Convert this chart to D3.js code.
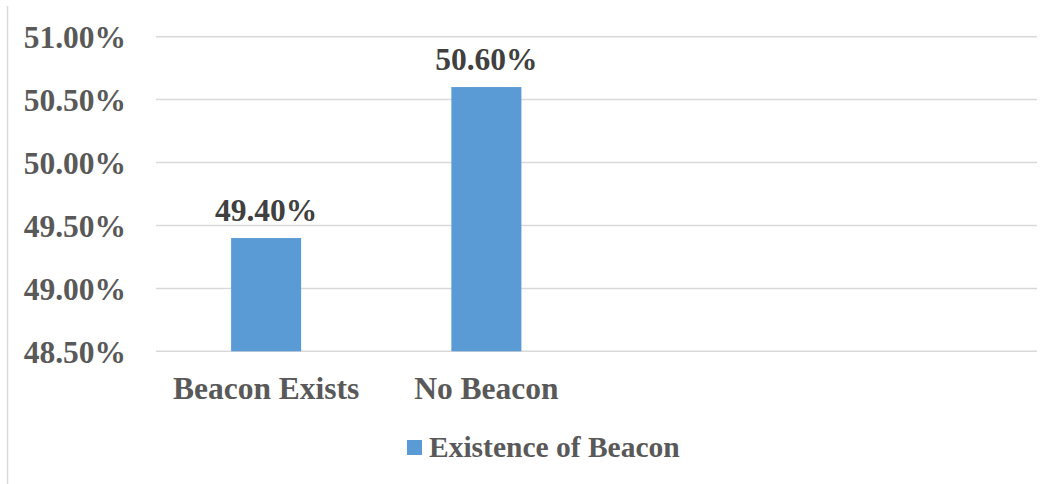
<!DOCTYPE html>
<html>
<head>
<meta charset="utf-8">
<script src="https://cdn.jsdelivr.net/npm/d3@7"></script>
<style>
  html, body { margin: 0; padding: 0; background: #fff; }
  svg { display: block; }
  text { font-family: "Liberation Serif", "Times New Roman", serif; font-weight: bold; }
</style>
</head>
<body>
<svg id="chart" width="1053" height="484"></svg>
<script>
// Categories and values (percent)
const categories = ["Beacon Exists", "No Beacon", "", " "];
const values = [49.40, 50.60, null, null];
const seriesName = "Existence of Beacon";
const yTicks = [48.5, 49.0, 49.5, 50.0, 50.5, 51.0];

const W = 1053, H = 484;
const margin = { left: 156, right: 16, top: 36.7, bottom: 132.7 };
const svg = d3.select("#chart");

// Outer frame line on the left
svg.append("line")
  .attr("x1", 7.5).attr("x2", 7.5).attr("y1", 6).attr("y2", H)
  .attr("stroke", "#d9d9d9").attr("stroke-width", 1.5);

const x = d3.scaleBand()
  .domain(categories)
  .range([margin.left, W - margin.right])
  .paddingInner(0.682)
  .paddingOuter(0.341);

const y = d3.scaleLinear()
  .domain([48.5, 51.0])
  .range([H - margin.bottom, margin.top]);

// Horizontal gridlines
svg.append("g")
  .selectAll("line")
  .data(yTicks)
  .join("line")
  .attr("x1", margin.left).attr("x2", W - margin.right)
  .attr("y1", d => y(d)).attr("y2", d => y(d))
  .attr("stroke", "#d9d9d9").attr("stroke-width", 1.5);

// Y axis labels
const yAxis = d3.axisLeft(y)
  .tickValues(yTicks)
  .tickFormat(d => d.toFixed(2) + "%")
  .tickSize(0)
  .tickPadding(30);
const gy = svg.append("g")
  .attr("transform", `translate(${margin.left},0)`)
  .call(yAxis);
gy.select(".domain").remove();
gy.selectAll("text")
  .attr("fill", "#595959")
  .style("font-size", "31.5px")
  .style("font-family", "Liberation Serif, Times New Roman, serif")
  .style("font-weight", "bold")
  .attr("dy", "0.34em");

// Bars
const data = categories.map((c, i) => ({ c, v: values[i] })).filter(d => d.v != null);
svg.append("g")
  .selectAll("rect")
  .data(data)
  .join("rect")
  .attr("x", d => x(d.c))
  .attr("width", x.bandwidth())
  .attr("y", d => y(d.v))
  .attr("height", d => y(48.5) - y(d.v))
  .attr("fill", "#5b9bd5");

// Value labels
svg.append("g")
  .selectAll("text")
  .data(data)
  .join("text")
  .attr("x", d => x(d.c) + x.bandwidth() / 2)
  .attr("y", d => y(d.v) - 17)
  .attr("text-anchor", "middle")
  .attr("fill", "#404040")
  .style("font-size", "31.5px")
  .text(d => d.v.toFixed(2) + "%");

// Category labels
const xAxis = d3.axisBottom(x).tickSize(0).tickPadding(25);
const gx = svg.append("g")
  .attr("transform", `translate(0,${y(48.5)})`)
  .call(xAxis);
gx.select(".domain").remove();
gx.selectAll("text")
  .attr("fill", "#595959")
  .style("font-size", "31.5px")
  .style("font-family", "Liberation Serif, Times New Roman, serif")
  .style("font-weight", "bold");

// Legend
const legend = svg.append("g").attr("transform", "translate(407,440)");
legend.append("rect").attr("width", 15).attr("height", 15).attr("fill", "#5b9bd5");
legend.append("text")
  .attr("x", 22).attr("y", 17)
  .attr("fill", "#595959")
  .style("font-size", "29.5px")
  .text(seriesName);
</script>
</body>
</html>
